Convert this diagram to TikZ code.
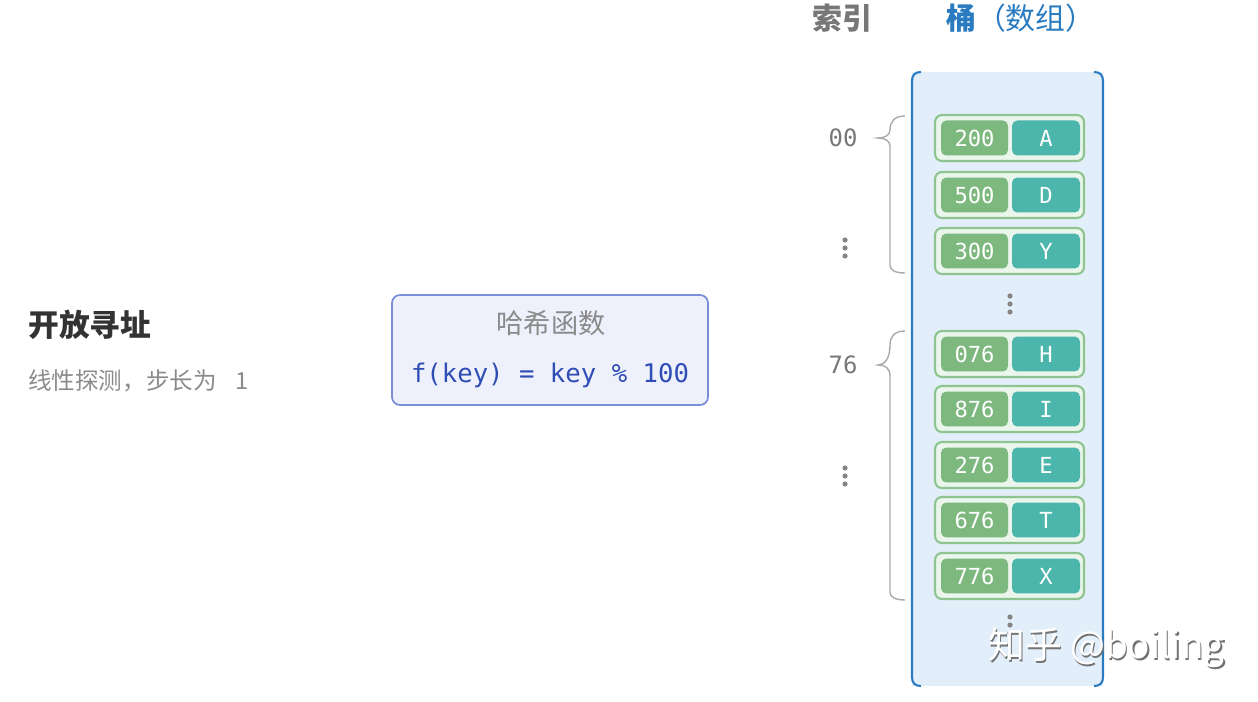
\documentclass[tikz,border=0pt]{standalone}
\usepackage{fontspec}
\setmainfont{Noto Sans CJK SC}
\newfontfamily\monofont{DejaVu Sans Mono}
\usetikzlibrary{positioning}
\definecolor{bucketblue}{HTML}{2B7BC0}
\definecolor{bucketbg}{HTML}{E2EFFA}
\definecolor{keygreen}{HTML}{7DB87F}
\definecolor{valteal}{HTML}{4DB6AC}
\definecolor{entryline}{HTML}{8DC48F}
\definecolor{entrybg}{HTML}{EAF5EC}
\definecolor{idxgray}{HTML}{777777}
\definecolor{bracegray}{HTML}{AAAAAA}
\definecolor{hashbg}{HTML}{EEF1FB}
\definecolor{hashline}{HTML}{7B8ED8}
\definecolor{hashtext}{HTML}{2E4DB5}
\definecolor{titlegray}{HTML}{333333}
\definecolor{subgray}{HTML}{8A8A8A}

\begin{document}
\begin{tikzpicture}[x=0.02cm, y=-0.02cm,
    keybox/.style={rectangle, rounded corners=3pt, fill=keygreen, text=white,
      minimum width=1.34cm, minimum height=0.7cm, inner sep=0pt,
      font=\monofont\fontsize{12.6pt}{14pt}\selectfont},
    valbox/.style={keybox, fill=valteal, minimum width=1.36cm},
    entrybox/.style={rectangle, rounded corners=4pt, draw=entryline, line width=1.2pt,
      fill=entrybg, minimum width=2.98cm, minimum height=0.92cm},
    idxlabel/.style={text=idxgray, font=\monofont\fontsize{13.6pt}{15pt}\selectfont},
    bucketside/.style={draw=bucketblue, line width=1.2pt},
    bracket/.style={draw=bracegray, line width=0.8pt},
    dotmark/.style={fill=idxgray!90}]
  \useasboundingbox (0,0) rectangle (1258,702);

  % --- left title ---
  \node[anchor=west, inner sep=0pt, text=titlegray, font=\bfseries\fontsize{17.5pt}{19pt}\selectfont]
    (title) at (28,325) {开放寻址};
  \node[anchor=west, inner sep=0pt, text=subgray, font=\fontsize{13.4pt}{15pt}\selectfont]
    (subtitle) at (28,381) {线性探测，步长为\hspace{0.8em}1};

  % --- hash function ---
  \node[rectangle, rounded corners=4.5pt, draw=hashline, line width=1pt, fill=hashbg,
    minimum width=6.32cm, minimum height=2.2cm] (hashfn) at (550,350) {};
  \node[text=subgray, font=\fontsize{15.5pt}{17pt}\selectfont] (hashname) at (551,323) {哈希函数};
  \node[text=hashtext, font=\monofont\fontsize{14.6pt}{16pt}\selectfont]
    (hashexpr) at (550,375) {f(key) = key \% 100};

  % --- headers ---
  \node[text=idxgray, font=\bfseries\fontsize{17pt}{19pt}\selectfont] (idxhead) at (842,18) {索引};
  \node[anchor=west, text=bucketblue, font=\fontsize{17pt}{19pt}\selectfont]
    (buckethead) at (940,18) {{\bfseries 桶}（数组）};

  % --- bucket array ---
  \fill[bucketbg] (912,72) rectangle (1103,686);
  \draw[bucketside] (921,72) .. controls (915,72) and (912,75) .. (912,81) -- (912,677)
    .. controls (912,683) and (915,686) .. (921,686);
  \draw[bucketside] (1094,72) .. controls (1100,72) and (1103,75) .. (1103,81) -- (1103,677)
    .. controls (1103,683) and (1100,686) .. (1094,686);

  \foreach \k/\v/\y [count=\i] in {200/A/138, 500/D/195, 300/Y/251, 076/H/354,
      876/I/409, 276/E/465, 676/T/520, 776/X/576} {
    \node[entrybox] (e\i) at (1009.5,\y) {};
    \node[keybox] (k\i) at (974.5,\y) {\k};
    \node[valbox] (v\i) at (1046,\y) {\v};
  }

  % vertical dots
  \foreach \x/\y in {1010/304, 845/248, 845/476, 1010/625}
    \foreach \d in {-8,0,8}
      \fill[dotmark] (\x,\y+\d) circle (2.6);

  % --- index labels and braces ---
  \node[idxlabel] (idx0) at (843,138) {00};
  \node[idxlabel] (idx76) at (843,365) {76};
  \draw[bracket] (905,116) .. controls (894,116) and (890,122) .. (890,130)
    .. controls (890,135) and (885,138) .. (878,138)
    .. controls (885,138) and (890,141) .. (890,146) -- (890,265)
    .. controls (890,270) and (895,273) .. (905,273);
  \draw[bracket] (905,331) .. controls (894,331) and (890,337) .. (890,345)
    .. controls (890,358) and (885,365) .. (878,365)
    .. controls (885,365) and (890,368) .. (890,376) -- (890,592)
    .. controls (890,597) and (895,600) .. (905,600);

  % --- watermark ---
  \node[anchor=west, text=black!55, font=\fontsize{21pt}{23pt}\selectfont]
    (wmshadow) at (983.5,649.5) {知乎 @boiling};
  \node[anchor=west, text=white, font=\fontsize{21pt}{23pt}\selectfont]
    (wm) at (982,648) {知乎 @boiling};
\end{tikzpicture}
\end{document}
